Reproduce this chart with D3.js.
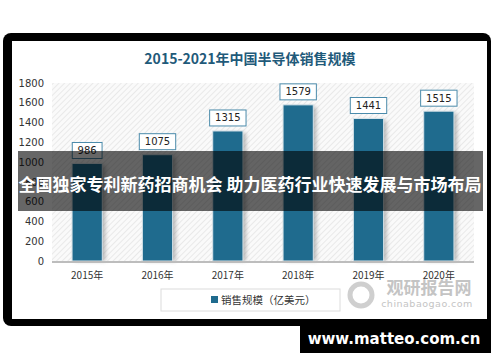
<!DOCTYPE html>
<html>
<head>
<meta charset="utf-8">
<script src="https://cdn.jsdelivr.net/npm/d3@7"></script>
<style>
  body { margin: 0; background: #fff; }
  svg { display: block; }
</style>
</head>
<body>
<script>
// data
const years = ["2015年", "2016年", "2017年", "2018年", "2019年", "2020年"];
const sales = [986, 1075, 1315, 1579, 1441, 1515];
const yTicks = [0, 200, 400, 600, 800, 1000, 1200, 1400, 1600, 1800];
const title = "2015-2021年中国半导体销售规模";
const legendLabel = "销售规模（亿美元）";
const banner = "全国独家专利新药招商机会 助力医药行业快速发展与市场布局";

const W = 500, H = 362;
const cjk = "'Noto Sans CJK SC', 'Noto Sans', sans-serif";
const barColor = "#1f6b8e";

const svg = d3.select(document.body).append("svg")
    .attr("width", W)
    .attr("height", H);

const defs = svg.append("defs");
const hatch = defs.append("pattern")
    .attr("id", "hatch")
    .attr("patternUnits", "userSpaceOnUse")
    .attr("width", 4)
    .attr("height", 4)
    .attr("patternTransform", "rotate(45)");
hatch.append("rect").attr("width", 4).attr("height", 4).attr("fill", "#fafafa");
hatch.append("line")
    .attr("x1", 0).attr("y1", 0).attr("x2", 0).attr("y2", 4)
    .attr("stroke", "#dedede").attr("stroke-width", 1.2);

const blur = defs.append("filter").attr("id", "shadow")
    .attr("x", "-50%").attr("y", "-10%").attr("width", "200%").attr("height", "120%");
blur.append("feGaussianBlur").attr("stdDeviation", 2);

// black frame
svg.append("rect")
    .attr("x", 3).attr("y", 33).attr("width", 488).attr("height", 293)
    .attr("rx", 8).attr("fill", "#000");
svg.append("rect")
    .attr("x", 300).attr("y", 318).attr("width", 191).attr("height", 35)
    .attr("fill", "#000");
svg.append("rect")
    .attr("x", 12).attr("y", 41).attr("width", 475).attr("height", 278)
    .attr("fill", "#fff");

// title
svg.append("text")
    .attr("x", 250).attr("y", 64)
    .attr("text-anchor", "middle")
    .attr("font-family", cjk)
    .attr("font-weight", "bold")
    .attr("font-size", 14)
    .attr("fill", "#1f5a7a")
    .text(title);

const plot = {left: 52, right: 474, top: 83, bottom: 261};

const x = d3.scaleBand()
    .domain(years)
    .range([plot.left, plot.right])
    .paddingInner(0.57)
    .paddingOuter(0.285);

const y = d3.scaleLinear()
    .domain([0, 1800])
    .range([plot.bottom, plot.top]);

svg.append("rect")
    .attr("x", plot.left).attr("y", plot.top)
    .attr("width", plot.right - plot.left)
    .attr("height", plot.bottom - plot.top)
    .attr("fill", "url(#hatch)");

// y axis labels
const yAxis = svg.append("g")
    .attr("transform", `translate(${plot.left - 6},0)`)
    .call(d3.axisLeft(y).tickValues(yTicks).tickFormat(d3.format("d")).tickSize(0).tickPadding(2));
yAxis.select(".domain").remove();
yAxis.selectAll("text")
    .attr("font-family", "'DejaVu Sans', sans-serif")
    .attr("font-size", 10)
    .attr("fill", "#333");

// bars with shadow
const bars = svg.append("g");
bars.selectAll(".shade")
    .data(sales)
    .join("rect")
    .attr("class", "shade")
    .attr("x", (d, i) => x(years[i]) + 3)
    .attr("y", d => y(d) + 2)
    .attr("width", x.bandwidth())
    .attr("height", d => y(0) - y(d) - 2)
    .attr("fill", "#888")
    .attr("opacity", 0.6)
    .attr("filter", "url(#shadow)");
bars.selectAll(".bar")
    .data(sales)
    .join("rect")
    .attr("class", "bar")
    .attr("x", (d, i) => x(years[i]))
    .attr("y", d => y(d))
    .attr("width", x.bandwidth())
    .attr("height", d => y(0) - y(d))
    .attr("fill", barColor)
    .attr("stroke", "#d8e4ea")
    .attr("stroke-width", 1);

// baseline
svg.append("line")
    .attr("x1", plot.left).attr("x2", plot.right)
    .attr("y1", plot.bottom + 1).attr("y2", plot.bottom + 1)
    .attr("stroke", "#bdbdbd").attr("stroke-width", 2);

// value labels in boxes
const labels = svg.append("g")
    .selectAll("g")
    .data(sales)
    .join("g")
    .attr("transform", (d, i) => `translate(${x(years[i]) + x.bandwidth() / 2},${y(d) - 13})`);
labels.append("rect")
    .attr("x", d => -String(d).length * 3.3 - 5)
    .attr("y", -8)
    .attr("width", d => String(d).length * 6.6 + 10)
    .attr("height", 16)
    .attr("fill", "#fff")
    .attr("stroke", "#4b8bab")
    .attr("stroke-width", 1);
labels.append("text")
    .attr("text-anchor", "middle")
    .attr("dy", "0.35em")
    .attr("font-family", "'DejaVu Sans', sans-serif")
    .attr("font-size", 10)
    .attr("fill", "#222")
    .text(d => d);

// x labels
svg.append("g")
    .selectAll("text")
    .data(years)
    .join("text")
    .attr("x", d => x(d) + x.bandwidth() / 2)
    .attr("y", 279)
    .attr("text-anchor", "middle")
    .attr("font-family", cjk)
    .attr("font-size", 10)
    .attr("fill", "#333")
    .text(d => d);

// watermark
const wm = svg.append("g").attr("fill", "#c4c4c4");
wm.append("circle")
    .attr("cx", 361).attr("cy", 295).attr("r", 11)
    .attr("fill", "none").attr("stroke", "#cfcfcf").attr("stroke-width", 5);
wm.append("text")
    .attr("x", 429).attr("y", 294)
    .attr("text-anchor", "middle")
    .attr("font-family", cjk)
    .attr("font-weight", "bold")
    .attr("font-size", 17)
    .text("观研报告网");
wm.append("text")
    .attr("x", 427).attr("y", 307)
    .attr("text-anchor", "middle")
    .attr("font-family", "'DejaVu Sans', sans-serif")
    .attr("font-size", 9.5)
    .attr("letter-spacing", 0.5)
    .text("chinabaogao.com");

// legend
svg.append("rect")
    .attr("x", 161).attr("y", 289).attr("width", 179).attr("height", 22)
    .attr("fill", "#fff").attr("fill-opacity", 0.6)
    .attr("stroke", "#dcdcdc");
svg.append("rect")
    .attr("x", 211).attr("y", 296).attr("width", 7).attr("height", 7)
    .attr("fill", barColor);
svg.append("text")
    .attr("x", 221).attr("y", 303.5)
    .attr("font-family", cjk)
    .attr("font-size", 10.5)
    .attr("fill", "#333")
    .text(legendLabel);

// banner overlay
svg.append("rect")
    .attr("x", 18).attr("y", 151).attr("width", 465).attr("height", 60)
    .attr("fill", "#000").attr("fill-opacity", 0.6);
svg.append("text")
    .attr("x", 250).attr("y", 186)
    .attr("text-anchor", "middle")
    .attr("dominant-baseline", "middle")
    .attr("font-family", cjk)
    .attr("font-weight", "bold")
    .attr("font-size", 17)
    .attr("fill", "#fff")
    .text(banner);

// site tag
svg.append("text")
    .attr("x", 394).attr("y", 344)
    .attr("text-anchor", "middle")
    .attr("font-family", "'DejaVu Sans', sans-serif")
    .attr("font-weight", "bold")
    .attr("font-size", 15)
    .attr("fill", "#fff")
    .text("www.matteo.com.cn");
</script>
</body>
</html>
